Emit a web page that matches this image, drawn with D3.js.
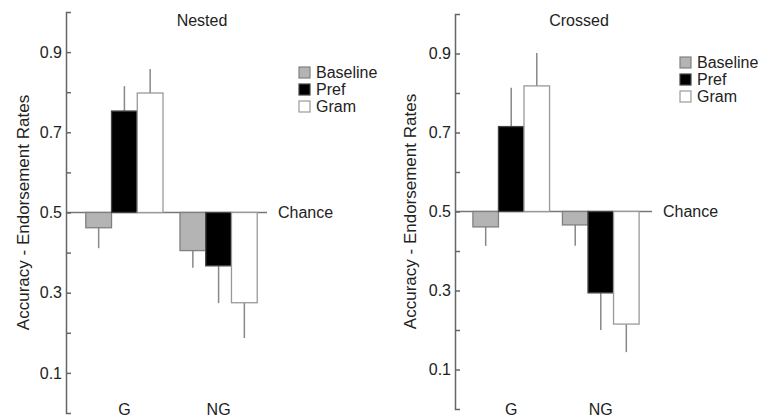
<!DOCTYPE html>
<html>
<head>
<meta charset="utf-8">
<script src="https://cdn.jsdelivr.net/npm/d3@7"></script>
<style>
  body { margin: 0; background: #fff; }
  svg text { font-family: "Liberation Sans", Arial, sans-serif; fill: #222; }
</style>
</head>
<body>
<svg id="chart" width="758" height="417"></svg>
<script>
// categories
const groups = ["G", "NG"];
const conditions = ["Baseline", "Pref", "Gram"];
const yTicks = [0.1, 0.2, 0.3, 0.4, 0.5, 0.6, 0.7, 0.8, 0.9];
const chance = 0.5;

// Nested panel: means and error (one-sided, pointing away from chance)
const nestedBaseline = [0.462, 0.405];
const nestedPref = [0.753, 0.367];
const nestedGram = [0.798, 0.275];
const nestedBaselineErr = [0.051, 0.043];
const nestedPrefErr = [0.062, 0.093];
const nestedGramErr = [0.060, 0.088];

// Crossed panel
const crossedBaseline = [0.461, 0.466];
const crossedPref = [0.715, 0.294];
const crossedGram = [0.818, 0.215];
const crossedBaselineErr = [0.048, 0.053];
const crossedPrefErr = [0.098, 0.094];
const crossedGramErr = [0.083, 0.071];

const fills = { Baseline: "#b4b4b4", Pref: "#000", Gram: "#fff" };
const strokes = { Baseline: "#808080", Pref: "#444", Gram: "#999" };

const svg = d3.select("#chart");

function panel(opts) {
  const { title, means, errs, axisX, yTop, yBottom, bandStart, bandEnd,
          padIn, padOut, chanceEnd, titleX, labelX, legendX, legendY, legendStep } = opts;

  const g = svg.append("g");

  const y = d3.scaleLinear().domain([0, 1]).range([yBottom, yTop]);
  const x = d3.scaleBand().domain(groups).range([bandStart, bandEnd])
    .paddingInner(padIn).paddingOuter(padOut);
  const xc = d3.scaleBand().domain(conditions).range([0, x.bandwidth()]);

  // chance line
  g.append("line")
    .attr("x1", axisX).attr("x2", chanceEnd)
    .attr("y1", y(chance)).attr("y2", y(chance))
    .attr("stroke", "#777").attr("stroke-width", 1.3);
  g.append("text")
    .attr("x", chanceEnd + 11).attr("y", y(chance))
    .attr("dy", "0.35em")
    .style("font-size", "16px")
    .text("Chance");

  // bars + error bars
  const rows = [];
  groups.forEach((grp, i) => {
    conditions.forEach((c, j) => {
      rows.push({ grp, c, v: means[j][i], e: errs[j][i] });
    });
  });

  const bar = g.selectAll(".bar").data(rows).join("g").attr("class", "bar");
  bar.append("line")
    .attr("x1", d => x(d.grp) + xc(d.c) + xc.bandwidth() / 2)
    .attr("x2", d => x(d.grp) + xc(d.c) + xc.bandwidth() / 2)
    .attr("y1", d => y(d.v))
    .attr("y2", d => y(d.v > chance ? d.v + d.e : d.v - d.e))
    .attr("stroke", "#888").attr("stroke-width", 1.5);
  bar.append("rect")
    .attr("x", d => x(d.grp) + xc(d.c))
    .attr("width", xc.bandwidth())
    .attr("y", d => y(Math.max(d.v, chance)))
    .attr("height", d => Math.abs(y(d.v) - y(chance)))
    .attr("fill", d => fills[d.c])
    .attr("stroke", d => strokes[d.c])
    .attr("stroke-width", 1.3);

  // y axis, ticks pointing inward like a bracket
  const axis = d3.axisLeft(y)
    .tickValues(yTicks)
    .tickSizeInner(-5)
    .tickSizeOuter(-5)
    .tickPadding(4)
    .tickFormat(d => (Math.round(d * 10) % 2 === 1 ? d3.format(".1f")(d) : ""));
  const ax = g.append("g").attr("transform", `translate(${axisX},0)`).call(axis);
  ax.selectAll("path, line").attr("stroke", "#666").attr("stroke-width", 1.5);
  ax.selectAll("text").style("font-size", "16px").attr("fill", "#222")
    .style("font-family", "'Liberation Sans', Arial, sans-serif");

  // category labels
  g.selectAll(".cat").data(groups).join("text")
    .attr("x", d => x(d) + x.bandwidth() / 2)
    .attr("y", 415)
    .attr("text-anchor", "middle")
    .style("font-size", "16px")
    .text(d => d);

  // title
  g.append("text")
    .attr("x", titleX).attr("y", 26)
    .attr("text-anchor", "middle")
    .style("font-size", "16px")
    .text(title);

  // y label
  g.append("text")
    .attr("transform", `translate(${labelX},${(yTop + yBottom) / 2}) rotate(-90)`)
    .attr("text-anchor", "middle")
    .attr("dy", "0.35em")
    .style("font-size", "17px")
    .text("Accuracy - Endorsement Rates");

  // legend
  const lg = g.selectAll(".leg").data(conditions).join("g")
    .attr("transform", (d, i) => `translate(${legendX},${legendY + i * legendStep})`);
  lg.append("rect")
    .attr("x", 0).attr("y", -5).attr("width", 11).attr("height", 11)
    .attr("fill", d => fills[d]).attr("stroke", d => strokes[d]).attr("stroke-width", 1.2);
  lg.append("text")
    .attr("x", 17).attr("y", 0).attr("dy", "0.35em")
    .style("font-size", "16px")
    .text(d => d);
}

panel({
  title: "Nested",
  means: [nestedBaseline, nestedPref, nestedGram],
  errs: [nestedBaselineErr, nestedPrefErr, nestedGramErr],
  axisX: 66, yTop: 12, yBottom: 413,
  bandStart: 66, bandEnd: 277, padIn: 0.18, padOut: 0.21,
  chanceEnd: 267, titleX: 202, labelX: 23,
  legendX: 299, legendY: 72, legendStep: 17
});

panel({
  title: "Crossed",
  means: [crossedBaseline, crossedPref, crossedGram],
  errs: [crossedBaselineErr, crossedPrefErr, crossedGramErr],
  axisX: 455, yTop: 14, yBottom: 409,
  bandStart: 455, bandEnd: 657, padIn: 0.144, padOut: 0.2,
  chanceEnd: 652, titleX: 579, labelX: 410,
  legendX: 680, legendY: 62, legendStep: 17
});
</script>
</body>
</html>
